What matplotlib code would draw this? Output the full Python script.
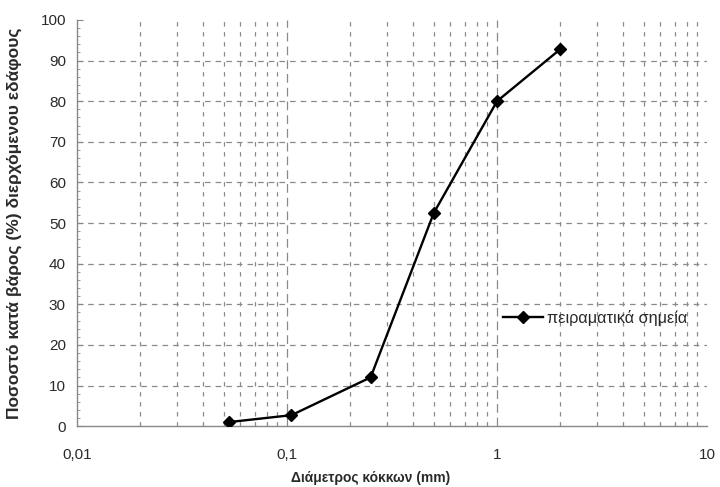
import matplotlib
matplotlib.use("Agg")
import matplotlib.pyplot as plt
from matplotlib.ticker import FixedLocator, FixedFormatter, NullFormatter

plt.rcParams['font.family'] = ['Liberation Sans', 'DejaVu Sans']

# data
diameter_mm = [0.053, 0.105, 0.25, 0.5, 1.0, 2.0]
passing_pct = [1.0, 2.7, 12.0, 52.5, 80.0, 92.8]
x_ticks = [0.01, 0.1, 1, 10]
x_tick_labels = ["0,01", "0,1", "1", "10"]
y_ticks = [0, 10, 20, 30, 40, 50, 60, 70, 80, 90, 100]
y_grid = [10, 20, 30, 40, 50, 60, 70, 80, 90]
x_minor = [m * d for d in (0.01, 0.1, 1) for m in range(2, 10)]
x_major_grid = [0.1, 1]
series_label = "πειραματικά σημεία"

fig = plt.figure(figsize=(7.2, 4.87), dpi=100)
ax = fig.add_axes([0.107, 0.125, 0.875, 0.834])
ax.set_xscale('log')
ax.set_xlim(0.01, 10)
ax.set_ylim(0, 100)

gcol = '#8a8a8a'
for xv in x_minor:
    ax.axvline(xv, color=gcol, lw=0.9, ls=(0, (3.5, 4.5)), zorder=1)
for xv in x_major_grid:
    ax.axvline(xv, color=gcol, lw=0.9, ls=(0, (7, 4)), zorder=1)
for yv in y_grid:
    ax.axhline(yv, color=gcol, lw=0.9, ls=(0, (4.5, 4)), zorder=1)

ax.plot(diameter_mm, passing_pct, color='black', lw=1.7, marker='D',
        markersize=6.5, label=series_label, zorder=3)

ax.xaxis.set_major_locator(FixedLocator(x_ticks))
ax.xaxis.set_major_formatter(FixedFormatter(x_tick_labels))
ax.xaxis.set_minor_formatter(NullFormatter())
ax.tick_params(axis='x', which='both', length=0, pad=16, labelsize=11, colors='#2a2a2a')
ax.set_yticks(y_ticks)
ax.set_yticks(range(0, 101, 2), minor=True)
ax.tick_params(axis='y', which='major', length=4, direction='in', pad=8,
               labelsize=11, colors='#2a2a2a')
ax.tick_params(axis='y', which='minor', length=2.5, direction='in', color='#888888')
ax.tick_params(axis='y', which='major', color='#888888')

for s in ('top', 'right'):
    ax.spines[s].set_visible(False)
for s in ('left', 'bottom'):
    ax.spines[s].set_color('#888888')
    ax.spines[s].set_linewidth(1.0)

ax.set_xlabel("Διάμετρος κόκκων (mm)", fontsize=10, fontweight='bold', color='#2a2a2a')
ax.set_ylabel("Ποσοστό κατά βάρος (%) διερχόμενου εδάφους", fontsize=12.5,
              fontweight='bold', color='#2a2a2a')
ax.xaxis.set_label_coords(0.466, -0.128)
ax.yaxis.set_label_coords(-0.1, 0.5)
ax.xaxis.label.set_va('center')
ax.yaxis.label.set_va('center')

leg = ax.legend(loc='center left', bbox_to_anchor=(0.653, 0.266), frameon=False,
                handlelength=2.46, handletextpad=0.25, fontsize=11.7)
for t in leg.get_texts():
    t.set_color('#2a2a2a')

fig.savefig("out.png", dpi=100)
